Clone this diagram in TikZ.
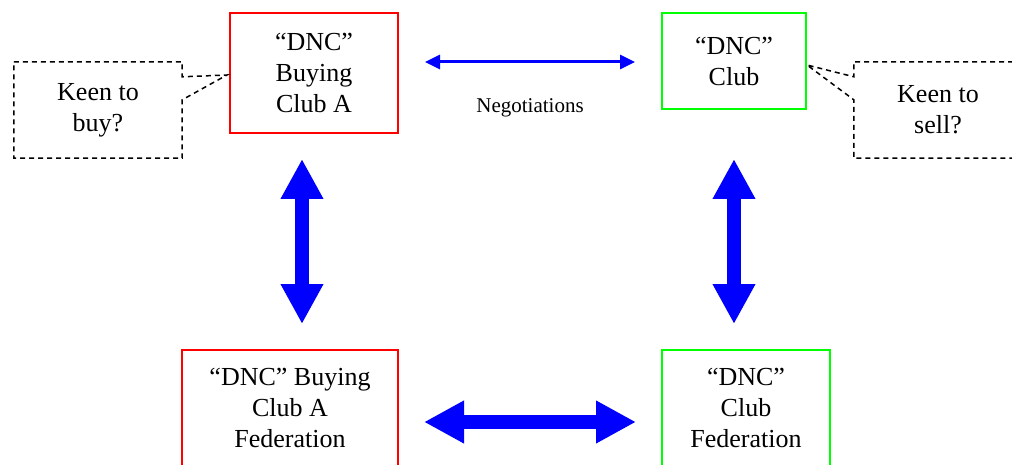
\documentclass[tikz,border=0pt]{standalone}
\usepackage{fontspec}
\setmainfont{Liberation Serif}
\usepackage{tikz}
\usetikzlibrary{positioning}
\usetikzlibrary{arrows.meta}

\begin{document}
\begin{tikzpicture}[x=1pt, y=-1pt,
  font=\fontsize{26}{31}\selectfont,
  club/.style = {draw, line width=2pt, align=center, inner sep=0pt},
  callout/.style = {draw, dashed, line width=1.5pt, dash pattern=on 5pt off 4pt},
  fatarrow/.style = {blue, line width=13.5pt, {Triangle[length=40pt,width=40pt]}-{Triangle[length=40pt,width=40pt]}},
  thinarrow/.style = {blue, line width=3pt, {Triangle[length=15pt,width=14pt]}-{Triangle[length=15pt,width=14pt]}}]
\clip (0,0) rectangle (1012,465);
\useasboundingbox (0,0) rectangle (1012,465);
\node[club, red, text=black, minimum width=168pt, minimum height=120pt] (buyclub) at (314,73) {“DNC”\\Buying\\Club A};
\node[club, green, text=black, minimum width=144pt, minimum height=96pt] (club) at (734,61) {“DNC”\\Club};
\node[club, red, text=black, minimum width=216pt, minimum height=116pt] (buyfed) at (290,408) {“DNC” Buying\\Club A\\Federation};
\node[club, green, text=black, minimum width=168pt, minimum height=116pt] (clubfed) at (746,408) {“DNC”\\Club\\Federation};
\node[align=center, minimum width=168pt, minimum height=96pt, inner sep=0pt] (buycall) at (98,110) {Keen to\\buy?};
\node[align=center, minimum width=168pt, minimum height=96pt, inner sep=0pt] (sellcall) at (938,110) {Keen to\\sell?};
% callouts
\draw[callout] (buycall.north west) -- (buycall.north east) -- ([yshift=-15pt]buycall.north east) -- ([shift={(-2pt,-2pt)}]buyclub.west) -- ([yshift=-38pt]buycall.north east) -- (buycall.south east) -- (buycall.south west) -- cycle;
\draw[callout] (sellcall.north east) -- (sellcall.north west) -- ([yshift=-15pt]sellcall.north west) -- ([yshift=-4pt]club.east) -- ([yshift=-38pt]sellcall.north west) -- (sellcall.south west) -- (sellcall.south east) -- cycle;
% arrows
\draw[thinarrow, shorten <=26pt, shorten >=26pt] ([yshift=-1pt]buyclub.east |- club.west) -- node[midway, yshift=-46pt, black, font=\fontsize{21}{25}\selectfont] {Negotiations} ([yshift=-1pt]club.west);
\draw[fatarrow, shorten <=25pt, shorten >=25pt] ([xshift=-12pt]buyclub.south) -- ([xshift=-12pt]buyclub.south |- buyfed.north);
\draw[fatarrow, shorten <=25pt, shorten >=25pt] (club.south |- buyclub.south) -- (club.south |- clubfed.north);
\draw[fatarrow, shorten <=25pt, shorten >=25pt] ([yshift=-14pt]buyfed.east) -- ([yshift=-14pt]buyfed.east -| clubfed.west);
\end{tikzpicture}
\end{document}
